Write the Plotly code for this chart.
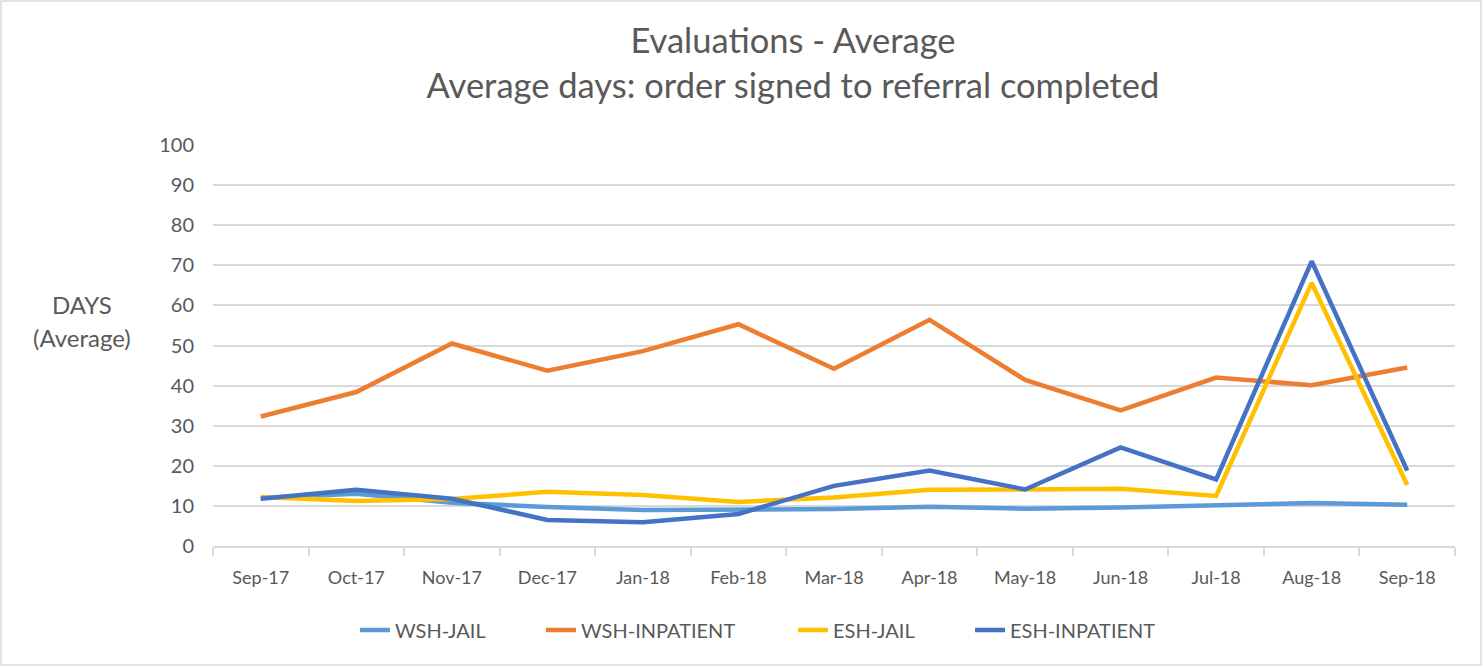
import plotly.graph_objects as go

months = ["Sep-17", "Oct-17", "Nov-17", "Dec-17", "Jan-18", "Feb-18", "Mar-18",
          "Apr-18", "May-18", "Jun-18", "Jul-18", "Aug-18", "Sep-18"]
wsh_jail = [12.0, 13.0, 10.8, 9.7, 9.0, 9.0, 9.2, 9.8, 9.3, 9.6, 10.1, 10.7, 10.3]
wsh_inpatient = [32.3, 38.4, 50.5, 43.7, 48.6, 55.3, 44.2, 56.4, 41.4, 33.8, 42.0, 40.1, 44.5]
esh_jail = [12.2, 11.2, 11.7, 13.5, 12.7, 11.0, 12.1, 14.0, 14.1, 14.3, 12.5, 65.6, 15.2]
esh_inpatient = [11.8, 14.0, 11.8, 6.5, 5.9, 8.0, 15.0, 18.8, 14.1, 24.6, 16.6, 71.0, 18.8]

series_names = ["WSH-JAIL", "WSH-INPATIENT", "ESH-JAIL", "ESH-INPATIENT"]
series_values = [wsh_jail, wsh_inpatient, esh_jail, esh_inpatient]
series_colors = ["#5B9BD5", "#ED7D31", "#FFC000", "#4472C4"]

FONT = "Lato, Open Sans, sans-serif"
TXT = "#595959"

W, H = 1483, 667
L, R, T, B = 213, 28, 145, 121
pw, ph = W - L - R, H - T - B

def px_x(px):
    return (px - L) / pw

def px_y(py):
    return (H - B - py) / ph

legend_ids = ["legend", "legend2", "legend3", "legend4"]
legend_text_x = [395, 581, 833, 1010]

fig = go.Figure()
for name, vals, color, lid in zip(series_names, series_values, series_colors, legend_ids):
    fig.add_trace(go.Scatter(
        x=months, y=vals, name=name, mode="lines", legend=lid,
        line=dict(color=color, width=4.5, shape="linear"),
    ))

legend_layout = {}
for lid, tx in zip(legend_ids, legend_text_x):
    legend_layout[lid] = dict(
        orientation="h", x=(tx - 40) / W, xanchor="left", xref="container",
        y=1 - 630 / H, yanchor="middle", yref="container",
        font=dict(family=FONT, size=20, color=TXT),
        bgcolor="rgba(0,0,0,0)", borderwidth=0, itemwidth=30,
    )

fig.update_layout(
    width=W, height=H,
    margin=dict(l=L, r=R, t=T, b=B),
    paper_bgcolor="white", plot_bgcolor="white",
    font=dict(family=FONT, color=TXT, size=18),
    title=dict(
        text="Evaluations - Average<br>Average days: order signed to referral completed",
        x=793 / W, xanchor="center", y=1 - 53 / H, yanchor="middle",
        font=dict(family=FONT, size=34.5, color=TXT),
    ),
    showlegend=True,
    xaxis=dict(
        type="category", range=[-0.5, 12.5],
        showgrid=False, showline=True, linecolor="#D9D9D9", linewidth=1.5,
        ticks="outside", tickson="boundaries", ticklen=8, tickcolor="#D9D9D9",
        tickwidth=1.5, ticklabelstandoff=15,
        tickfont=dict(family=FONT, size=18, color=TXT),
    ),
    yaxis=dict(
        range=[0, 100], dtick=10, showgrid=True, gridcolor="#D9D9D9", gridwidth=1.5,
        zeroline=False, showline=False, ticks="", ticklabelstandoff=18,
        tickfont=dict(family=FONT, size=20, color=TXT),
    ),
    annotations=[
        dict(text="DAYS", x=px_x(82), y=px_y(304), xref="paper", yref="paper",
             showarrow=False, xanchor="center", yanchor="middle",
             font=dict(family=FONT, size=24, color=TXT)),
        dict(text="(Average)", x=px_x(82), y=px_y(337), xref="paper", yref="paper",
             showarrow=False, xanchor="center", yanchor="middle",
             font=dict(family=FONT, size=24, color=TXT)),
    ],
    shapes=[dict(
        type="rect", xref="paper", yref="paper",
        x0=px_x(1), x1=px_x(1481), y0=px_y(665), y1=px_y(1),
        line=dict(color="#D9D9D9", width=1.5), fillcolor="rgba(0,0,0,0)",
    )],
    **legend_layout,
)

fig.write_html(
    "out.html",
    config={"displayModeBar": False},
    post_script="document.body.style.margin='0';document.body.style.padding='0';",
)
